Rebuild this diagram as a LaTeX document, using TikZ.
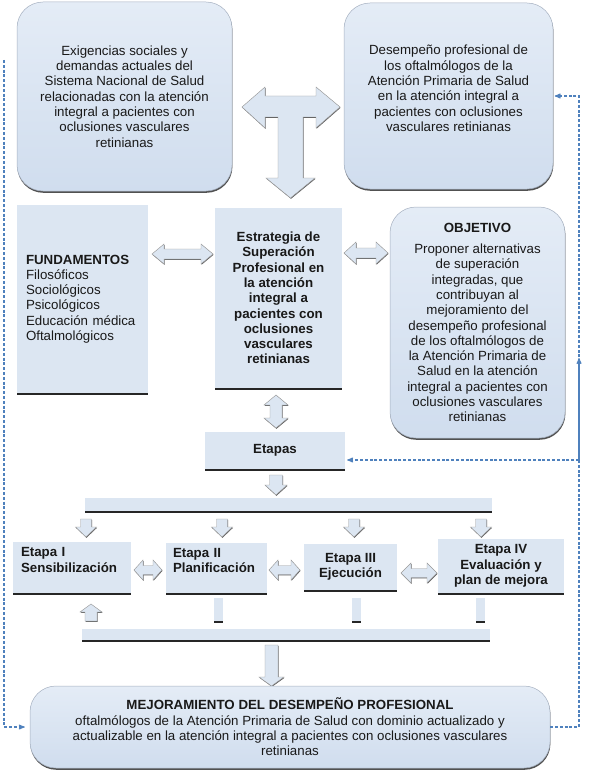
\documentclass[tikz,border=0pt]{standalone}
\usepackage{fontspec}
\setmainfont{Liberation Sans}
\usepackage{tikz}
\usetikzlibrary{shapes,arrows,positioning,calc,shadows}
\definecolor{boxfill}{RGB}{220,230,242}
\definecolor{boxtop}{RGB}{228,236,246}
\definecolor{boxbot}{RGB}{208,221,238}
\definecolor{boxedge}{RGB}{165,176,192}
\definecolor{conncol}{RGB}{79,129,189}
\definecolor{txt}{RGB}{25,25,25}
\tikzstyle{roundbox} = [rectangle, rounded corners=26pt, draw=boxedge, line width=0.5pt, top color=boxtop, bottom color=boxbot, align=center, drop shadow={shadow xshift=0.4pt, shadow yshift=-1.8pt, fill=black!80, opacity=0.85}]
\tikzstyle{rectbox} = [rectangle, fill=boxfill, align=center, drop shadow={shadow xshift=0pt, shadow yshift=-1.6pt, fill=black!85, opacity=1}]
\tikzstyle{arrowblk} = [fill=boxfill, draw=black!40, line width=0.45pt, drop shadow={shadow xshift=0.5pt, shadow yshift=-0.8pt, fill=black!70, opacity=0.9}]
\tikzstyle{dashconn} = [draw=conncol, line width=1.1pt, dash pattern=on 3pt off 1.8pt]

% block arrows: horizontal double (x1, x2, y, half head, half shaft, head length)
\newcommand{\blkhh}[6]{%
  \path[arrowblk] (#1,#3) -- ({#1+#6},{#3-#4}) -- ({#1+#6},{#3-#5}) -- ({#2-#6},{#3-#5})
    -- ({#2-#6},{#3-#4}) -- (#2,#3) -- ({#2-#6},{#3+#4}) -- ({#2-#6},{#3+#5})
    -- ({#1+#6},{#3+#5}) -- ({#1+#6},{#3+#4}) -- cycle;}
% vertical double (x, y top, y bottom, half head, half shaft, head length)
\newcommand{\blkvv}[6]{%
  \path[arrowblk] (#1,#2) -- ({#1+#4},{#2+#6}) -- ({#1+#5},{#2+#6}) -- ({#1+#5},{#3-#6})
    -- ({#1+#4},{#3-#6}) -- (#1,#3) -- ({#1-#4},{#3-#6}) -- ({#1-#5},{#3-#6})
    -- ({#1-#5},{#2+#6}) -- ({#1-#4},{#2+#6}) -- cycle;}
% down (x, y tail, y tip, half head, half shaft, head length)
\newcommand{\blkdown}[6]{%
  \path[arrowblk] ({#1-#5},#2) -- ({#1+#5},#2) -- ({#1+#5},{#3-#6}) -- ({#1+#4},{#3-#6})
    -- (#1,#3) -- ({#1-#4},{#3-#6}) -- ({#1-#5},{#3-#6}) -- cycle;}
% up (x, y tip, y tail, half head, half shaft, head length)
\newcommand{\blkup}[6]{%
  \path[arrowblk] (#1,#2) -- ({#1+#4},{#2+#6}) -- ({#1+#5},{#2+#6}) -- ({#1+#5},#3)
    -- ({#1-#5},#3) -- ({#1-#5},{#2+#6}) -- ({#1-#4},{#2+#6}) -- cycle;}

\begin{document}
\begin{tikzpicture}[x=1pt, y=-1pt, >=stealth', font=\fontsize{13.3}{15.3}\selectfont, text=txt]
    \useasboundingbox (0,0) rectangle (589,773);

    % top row
    \node[roundbox, minimum width=215pt, minimum height=189pt] (demand) at (124.5,96.5) {Exigencias sociales y\\demandas actuales del\\Sistema Nacional de Salud\\relacionadas con la atención\\integral a pacientes con\\oclusiones vasculares\\retinianas};
    \node[roundbox, minimum width=209pt, minimum height=186pt] (practice) at (448.5,96) {Desempeño profesional de\\los oftalmólogos de la\\Atención Primaria de Salud\\en la atención integral a\\pacientes con oclusiones\\vasculares retinianas\\\mbox{}};

    % T arrow
    \path[arrowblk] (242,107) -- (265,87) -- (265,96) -- (316,96) -- (316,87) -- (340,107)
        -- (316,128) -- (316,117) -- (303,117) -- (303,178) -- (315,178) -- (290.5,198)
        -- (266,178) -- (278,178) -- (278,117) -- (265,117) -- (265,128) -- cycle;

    % middle row
    \node[rectbox, minimum width=131pt, minimum height=188pt, text width=113pt, inner xsep=9pt, align=left] (basis) at (82.5,299) {\textbf{FUNDAMENTOS}\\Filosóficos\\Sociológicos\\Psicológicos\\Educación médica\\Oftalmológicos};
    \node[rectbox, minimum width=127pt, minimum height=180pt] (strategy) at (278.5,298) {\textbf{Estrategia de}\\\textbf{Superación}\\\textbf{Profesional en}\\\textbf{la atención}\\\textbf{integral a}\\\textbf{pacientes con}\\\textbf{oclusiones}\\\textbf{vasculares}\\\textbf{retinianas}};
    \node[roundbox, minimum width=175pt, minimum height=231pt] (objective) at (477.5,322.5) {\textbf{OBJETIVO}\\[6pt]Proponer alternativas\\de superación\\integradas, que\\contribuyan al\\mejoramiento del\\desempeño profesional\\de los oftalmólogos de\\la Atención Primaria de\\Salud en la atención\\integral a pacientes con\\oclusiones vasculares\\retinianas};

    \blkhh{152}{213}{254}{10}{5}{12}
    \blkhh{344}{388}{253}{11}{5}{12}
    \blkvv{276}{395}{428}{12}{6}{10}

    % stages
    \node[rectbox, minimum width=140pt, minimum height=37pt] (stages) at (275,450.5) {\textbf{Etapas}};
    \blkdown{276}{475}{495}{11}{6.5}{10}
    \node[rectbox, minimum width=407pt, minimum height=13pt, inner sep=0pt] (splitbar) at (288.5,504.5) {};
    \foreach \x in {86,222,354,481}
        \blkdown{\x}{519}{537}{10.5}{5.5}{10};

    \node[rectbox, minimum width=118pt, minimum height=51pt, text width=102pt, inner xsep=8pt, align=left] (stage1) at (72,567.5) {\textbf{Etapa I}\\\textbf{Sensibilización}\\\mbox{}};
    \node[rectbox, minimum width=101pt, minimum height=50pt, text width=87pt, inner xsep=7pt, align=left] (stage2) at (216.5,568) {\textbf{Etapa II}\\\textbf{Planificación}\\\mbox{}};
    \node[rectbox, minimum width=93pt, minimum height=46pt] (stage3) at (350.5,567) {\textbf{Etapa III}\\\textbf{Ejecución}};
    \node[rectbox, minimum width=126pt, minimum height=54pt] (stage4) at (501,566) {\textbf{Etapa IV}\\\textbf{Evaluación y}\\\textbf{plan de mejora}};

    \blkhh{134}{162}{570}{10}{4.5}{9}
    \blkhh{269}{300}{570}{10}{4.5}{9}
    \blkhh{401}{437}{573}{10}{4.5}{10}

    % below the stages
    \blkup{91}{604}{621}{11}{6}{8}
    \node[rectbox, minimum width=9pt, minimum height=23pt, inner sep=0pt] (stub2) at (218.5,609.5) {};
    \node[rectbox, minimum width=9pt, minimum height=23pt, inner sep=0pt] (stub3) at (356.5,609.5) {};
    \node[rectbox, minimum width=9pt, minimum height=23pt, inner sep=0pt] (stub4) at (480.5,609.5) {};
    \node[rectbox, minimum width=408pt, minimum height=11pt, inner sep=0pt] (joinbar) at (286,634.5) {};
    \blkdown{271.5}{645}{686}{12.5}{6.5}{9}

    \node[roundbox, minimum width=520pt, minimum height=82pt] (improve) at (290,727) {\textbf{MEJORAMIENTO DEL DESEMPEÑO PROFESIONAL}\\oftalmólogos de la Atención Primaria de Salud con dominio actualizado y\\actualizable en la atención integral a pacientes con oclusiones vasculares\\retinianas};

    % feedback lines
    \coordinate (leftend) at (4,60);
    \coordinate (rightturn) at (579,96);
    \coordinate (stagejoin) at (579,460);
    \coordinate (midtip) at (579,358);
    \draw[dashconn,->,shorten >=5pt] (leftend) |- (improve.west);
    \draw[dashconn,->,shorten >=1.5pt] (improve.east) -| (rightturn) -- (practice.east);
    \draw[dashconn,->,shorten >=2pt] (stagejoin) -- (stagejoin -| stages.east);
    \draw[dashconn,->] (stagejoin) -- (midtip);
\end{tikzpicture}
\end{document}
